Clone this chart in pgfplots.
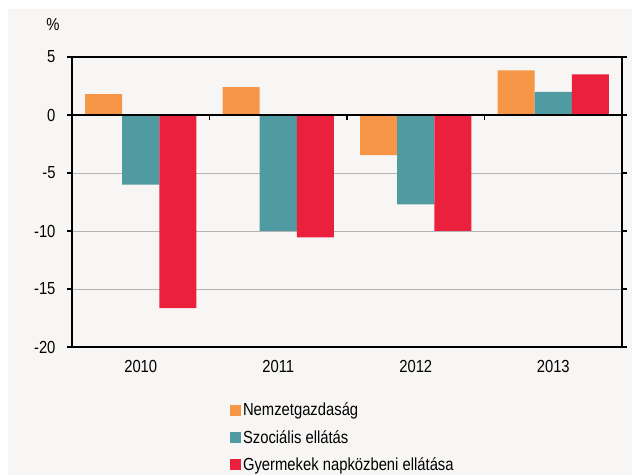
\documentclass[border=0pt]{standalone}
\usepackage{pgfplots}
\pgfplotsset{compat=1.18}
\usepackage{fontspec}
\setmainfont{Liberation Sans}
\usepackage{graphicx}
\definecolor{cOr}{RGB}{247,150,70}
\definecolor{cTe}{RGB}{80,154,162}
\definecolor{cRe}{RGB}{235,32,60}
\definecolor{cBg}{RGB}{247,246,244}
\definecolor{cGr}{RGB}{180,180,180}
\newcommand{\fsz}{\fontsize{14.8bp}{17bp}\selectfont}
\newcommand{\st}[1]{\scalebox{1}[1.18]{#1}}
\pgfplotsset{sqleg/.style={legend image code/.code={\fill[#1] (0bp,-5.5bp) rectangle (11bp,5.5bp);}}}
\begin{document}
\begin{tikzpicture}[x=1bp,y=1bp]
\useasboundingbox (0,0) rectangle (632,475);
\fill[white] (0,0) rectangle (632,475);
\fill[cBg] (8,0) rectangle (632,466);
\node[font=\fsz] at (53,450.5) {\st{\%}};
\begin{axis}[
  at={(72bp,128bp)}, anchor=south west,
  scale only axis, width=550bp, height=290bp,
  xmin=-0.5, xmax=3.5, ymin=-20, ymax=5,
  axis line style={black, line width=1.2pt},
  xtick={0,1,2,3},
  xticklabels={\st{2010},\st{2011},\st{2012},\st{2013}},
  x tick style={draw=none},
  xticklabel style={font=\fsz, yshift=-5bp},
  ytick={-20,-15,-10,-5,0,5},
  yticklabels={\st{-20},\st{-15},\st{-10},\st{-5},\st{0},\st{5}},
  y tick style={black, line width=1.2pt},
  tick align=outside, major tick length=5bp,
  yticklabel style={font=\fsz, xshift=-8bp},
  ymajorgrids, grid style={cGr, line width=0.9pt},
  legend style={at={(0.287,-0.185)}, anchor=north west, draw=none, fill=none,
    font=\fsz, inner sep=0pt, row sep=9bp, legend cell align=left,
    nodes={inner xsep=2bp}},
  ybar, bar width=0.27,
]
\addplot[fill=cOr, draw=none, bar shift=-0.27, sqleg] coordinates {(0,1.8) (1,2.4) (2,-3.45) (3,3.85)};
\addplot[fill=cTe, draw=none, bar shift=0, sqleg] coordinates {(0,-6.0) (1,-10.0) (2,-7.7) (3,2.0)};
\addplot[fill=cRe, draw=none, bar shift=0.27, sqleg] coordinates {(0,-16.65) (1,-10.55) (2,-10.0) (3,3.5)};
\legend{\st{Nemzetgazdaság},\st{Szociális ellátás},\st{Gyermekek napközbeni ellátása}}
\draw[black, line width=1.2pt] (axis cs:-0.5,0) -- (axis cs:3.5,0);
\draw[black, line width=1.2pt] (axis cs:0.5,0) -- ([yshift=-5bp]axis cs:0.5,0);
\draw[black, line width=1.2pt] (axis cs:1.5,0) -- ([yshift=-5bp]axis cs:1.5,0);
\draw[black, line width=1.2pt] (axis cs:2.5,0) -- ([yshift=-5bp]axis cs:2.5,0);
\end{axis}
\end{tikzpicture}
\end{document}
